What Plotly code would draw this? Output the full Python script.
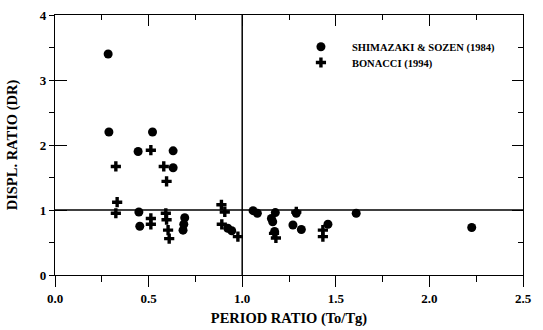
import plotly.graph_objects as go

# Shimazaki & Sozen (1984) - circles
shim_x = [0.284, 0.288, 0.521, 0.444, 0.631, 0.631, 0.448, 0.453, 0.693, 0.688, 0.684,
          0.923, 0.944, 1.058, 1.081, 1.177, 1.156, 1.163, 1.173, 1.289, 1.271, 1.316,
          1.458, 1.609, 2.226]
shim_y = [3.40, 2.20, 2.20, 1.90, 1.91, 1.65, 0.97, 0.75, 0.88, 0.78, 0.69,
          0.72, 0.68, 0.99, 0.95, 0.96, 0.87, 0.82, 0.67, 0.95, 0.77, 0.70,
          0.78, 0.95, 0.73]

# Bonacci (1994) - crosses
bon_x = [0.512, 0.325, 0.581, 0.596, 0.332, 0.325, 0.512, 0.512, 0.592, 0.596, 0.604,
         0.610, 0.889, 0.907, 0.891, 0.977, 1.170, 1.180, 1.289, 1.431, 1.431]
bon_y = [1.92, 1.67, 1.67, 1.44, 1.12, 0.95, 0.87, 0.78, 0.95, 0.85, 0.69,
         0.56, 1.08, 0.97, 0.78, 0.59, 0.64, 0.57, 0.97, 0.69, 0.59]

x_ticks = [0.0, 0.5, 1.0, 1.5, 2.0, 2.5]
x_ticklabels = ["0.0", "0.5", "1.0", "1.5", "2.0", "2.5"]
y_ticks = [0, 1, 2, 3, 4]
y_ticklabels = ["0", "1", "2", "3", "4"]
REF_X = 1.0
REF_Y = 1.0

FONT = "Liberation Serif"
BOLD = dict(family=FONT, color="black", weight="bold")

fig = go.Figure()
fig.add_trace(go.Scatter(x=shim_x, y=shim_y, mode="markers", name="SHIMAZAKI &amp; SOZEN (1984)",
                         legend="legend",
                         marker=dict(symbol="circle", size=9, color="black", line=dict(width=0))))
fig.add_trace(go.Scatter(x=bon_x, y=bon_y, mode="markers", name="BONACCI (1994)",
                         legend="legend2",
                         marker=dict(symbol="cross", size=8.5, color="black", line=dict(width=0))))

fig.add_hline(y=REF_Y, line=dict(color="black", width=1.5))
fig.add_vline(x=REF_X, line=dict(color="black", width=1.5))

axis_common = dict(showgrid=False, zeroline=False, linecolor="black", linewidth=1.3,
                   tickcolor="black", tickwidth=1.2, automargin=False)

legend_common = dict(xanchor="left", yanchor="middle", bgcolor="rgba(0,0,0,0)",
                     font=dict(size=10.5, **BOLD), itemwidth=52)

fig.update_layout(
    width=543, height=330,
    margin=dict(l=55, r=20, t=15, b=55),
    paper_bgcolor="white", plot_bgcolor="white",
    font=dict(family=FONT, color="black"),
    showlegend=True,
    legend=dict(x=0.502, y=(275 - 46.7) / 260, **legend_common),
    legend2=dict(x=0.502, y=(275 - 62.5) / 260, **legend_common),
    xaxis=dict(range=[0, 2.5], tickvals=x_ticks, ticktext=x_ticklabels, ticks="outside", ticklen=11,
               minor=dict(dtick=0.25, ticks="outside", ticklen=6, tickcolor="black", tickwidth=1.2),
               tickfont=dict(size=13, **BOLD),
               title=dict(text="PERIOD RATIO (To/Tg)", font=dict(size=14.5, **BOLD), standoff=8),
               **axis_common),
    xaxis2=dict(range=[0, 2.5], overlaying="x", side="top", tickvals=x_ticks, showticklabels=False,
                ticks="inside", ticklen=11,
                minor=dict(dtick=0.25, ticks="inside", ticklen=5, tickcolor="black", tickwidth=1.2),
                **axis_common),
    yaxis=dict(range=[0, 4], tickvals=y_ticks, ticktext=y_ticklabels, ticks="outside", ticklen=5,
               minor=dict(dtick=0.5, ticks="outside", ticklen=5, tickcolor="black", tickwidth=1.2),
               tickfont=dict(size=13, **BOLD),
               title=dict(text="DISPL. RATIO (DR)", font=dict(size=14.5, **BOLD), standoff=18),
               **axis_common),
    yaxis2=dict(range=[0, 4], overlaying="y", side="right", tickvals=y_ticks, showticklabels=False,
                ticks="inside", ticklen=11,
                minor=dict(dtick=0.5, ticks="inside", ticklen=5, tickcolor="black", tickwidth=1.2),
                **axis_common),
    yaxis3=dict(range=[0, 4], overlaying="y", side="left", tickvals=y_ticks, showticklabels=False,
                ticks="inside", ticklen=12, showline=False, showgrid=False, zeroline=False,
                tickcolor="black", tickwidth=1.2, automargin=False),
)
# dummy traces to activate the mirror axes
fig.add_trace(go.Scatter(x=[None], y=[None], xaxis="x2", yaxis="y2", showlegend=False, hoverinfo="skip"))
fig.add_trace(go.Scatter(x=[None], y=[None], xaxis="x", yaxis="y3", showlegend=False, hoverinfo="skip"))

fig.write_html("out.html")
